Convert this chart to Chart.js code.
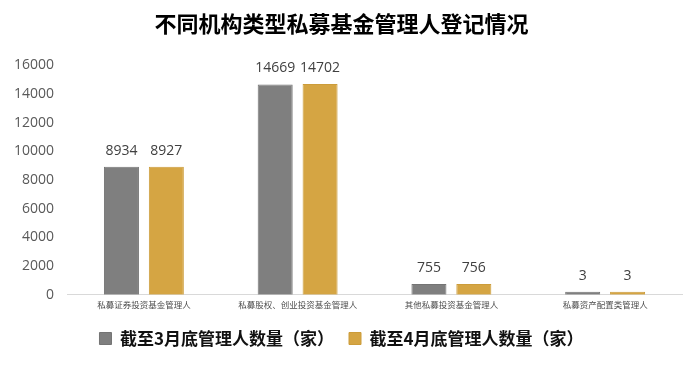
<!DOCTYPE html>
<html>
<head>
<meta charset="utf-8">
<script src="https://cdn.jsdelivr.net/npm/chart.js@4/dist/chart.umd.min.js"></script>
<style>
    html, body { margin: 0; padding: 0; background: #fff; }
    #wrap { width: 700px; height: 368px; }
</style>
</head>
<body>
<div id="wrap"><canvas id="regChart" width="700" height="368"></canvas></div>
<script>
const categories = ["私募证券投资基金管理人", "私募股权、创业投资基金管理人", "其他私募投资基金管理人", "私募资产配置类管理人"];
const marchCounts = [8934, 14669, 755, 3];
const aprilCounts = [8927, 14702, 756, 3];
const seriesNames = ["截至3月底管理人数量（家）", "截至4月底管理人数量（家）"];
const yTicks = [0, 2000, 4000, 6000, 8000, 10000, 12000, 14000, 16000];

const fontFamily = "'Noto Sans CJK SC', 'Microsoft YaHei', sans-serif";

// draws the number above each bar
const valueLabels = {
    id: "valueLabels",
    afterDatasetsDraw(chart) {
        let ctx = chart.ctx;
        ctx.save();
        ctx.font = "14px 'Open Sans', sans-serif";
        ctx.fillStyle = "#404040";
        ctx.textAlign = "center";
        ctx.textBaseline = "bottom";
        chart.data.datasets.forEach((ds, i) => {
            chart.getDatasetMeta(i).data.forEach((bar, j) => {
                ctx.fillText(ds.data[j], bar.x, bar.y - 9);
            });
        });
        ctx.restore();
    }
};

new Chart(document.getElementById("regChart"), {
    type: "bar",
    data: {
        labels: categories,
        datasets: [{
            label: seriesNames[0],
            data: marchCounts,
            backgroundColor: "#7f7f7f",
            borderColor: "#747474",
            borderWidth: 1,
            minBarLength: 3
        }, {
            label: seriesNames[1],
            data: aprilCounts,
            backgroundColor: "#d5a543",
            borderColor: "#cc9c3a",
            borderWidth: 1,
            minBarLength: 3
        }]
    },
    options: {
        responsive: false,
        animation: false,
        devicePixelRatio: 1,
        categoryPercentage: 0.584,
        barPercentage: 0.78,
        layout: { padding: { left: 1, right: 18, top: 0, bottom: 11 } },
        plugins: {
            title: {
                display: true,
                text: "不同机构类型私募基金管理人登记情况",
                color: "#000",
                font: { family: fontFamily, size: 22, weight: "bold" },
                padding: { top: 10, bottom: 29 }
            },
            legend: {
                position: "bottom",
                labels: {
                    color: "#111",
                    boxWidth: 12,
                    boxHeight: 12,
                    padding: 15,
                    font: { family: fontFamily, size: 17, weight: "bold" }
                }
            },
            tooltip: { enabled: false }
        },
        scales: {
            x: {
                grid: { display: false, drawTicks: false },
                border: { color: "#d9d9d9", width: 1 },
                ticks: {
                    color: "#4d4d4d",
                    padding: 5,
                    maxRotation: 0,
                    autoSkip: false,
                    font: { family: fontFamily, size: 8.5 }
                }
            },
            y: {
                min: 0,
                max: 16000,
                afterBuildTicks(axis) {
                    axis.ticks = yTicks.map(v => ({ value: v }));
                },
                grid: { display: false, drawTicks: false },
                border: { display: false },
                ticks: {
                    color: "#595959",
                    padding: 13,
                    font: { family: "'Open Sans', sans-serif", size: 14 },
                    callback: (v) => String(v)
                }
            }
        }
    },
    plugins: [valueLabels]
});
</script>
</body>
</html>
